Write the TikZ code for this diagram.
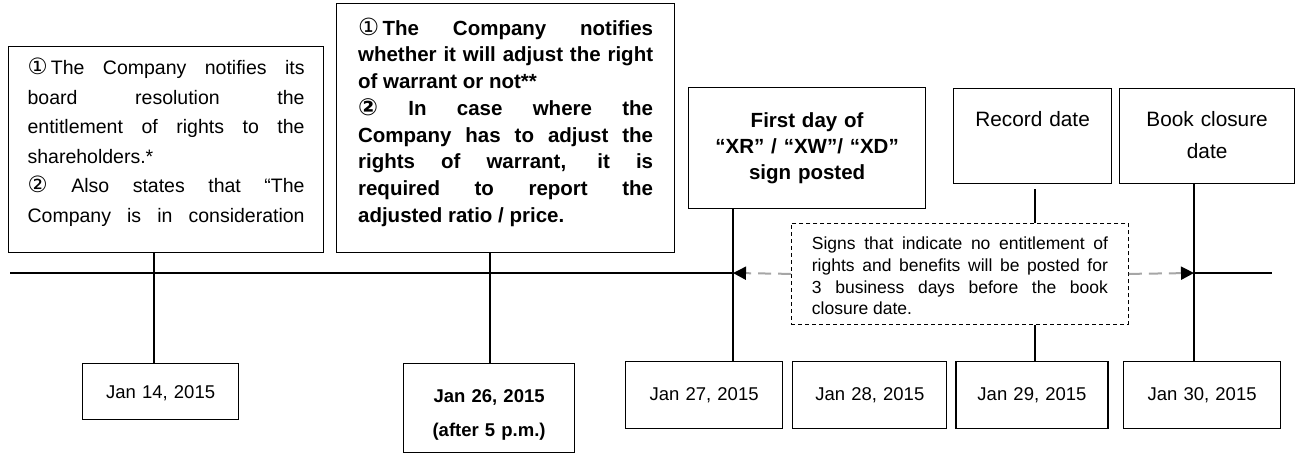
\documentclass[tikz,border=0pt]{standalone}
\usepackage{fontspec}
\setmainfont{Liberation Sans}
\newfontfamily\circfont[Scale=1.15]{DejaVu Sans}
\usetikzlibrary{arrows.meta,positioning}
\tikzstyle{evbox}=[draw,rectangle,line width=1.2pt,inner sep=0pt,fill=white]
\tolerance=10000
\hbadness=10000
\hyphenpenalty=10000
\lefthyphenmin=62

\begin{document}
\begin{tikzpicture}[
  x=1pt, y=-1pt,
  line width=1.5pt,
  annbox/.style={
    evbox,
    anchor=north west,
    align=justify
    },
  datebox/.style={
    evbox,
    anchor=north west,
    align=center,
    text width=140pt,
    minimum height=67pt,
    font=\fontsize{18.5}{22}\selectfont
    },
  titlebox/.style={
    evbox,
    anchor=north west,
    align=center,
    minimum height=95pt,
    font=\fontsize{20.8}{32}\selectfont
    },
  sigarrow/.style={
    draw=black!35,
    line width=2pt,
    dash pattern=on 13pt off 7pt,
    -{Triangle[length=13pt,width=13pt,black]}
    }
]
\useasboundingbox (0,0) rectangle (1300,454);

% ticks on the time line
\coordinate (tl0) at (10,273);
\coordinate (tl1) at (1272,273);
\coordinate (t14) at (154,273);
\coordinate (t26) at (490,273);
\coordinate (t27) at (733,273);
\coordinate (t29) at (1035,273);
\coordinate (t30) at (1194,273);

% events above the line
\node [annbox, text width=277pt, minimum width=315pt, minimum height=206pt,
  font=\fontsize{19.5}{29.5}\selectfont] (ann14) at (8,46)
  {{\circfont ①}\,The Company notifies its\linebreak
   board resolution the\linebreak
   entitlement of rights to the\linebreak
   shareholders.*\par
   {\circfont ②} Also states that “The\linebreak
   Company is in consideration\parfillskip=0pt\par\kern15pt};
\node [annbox, text width=295pt, minimum width=338pt, minimum height=249pt,
  font=\fontsize{20.5}{26.7}\selectfont\bfseries] (ann26) at (336,3)
  {{\circfont\mdseries ①}\,The Company notifies\linebreak
   whether it will adjust the right\linebreak
   of warrant or not**\par
   {\circfont\bfseries ②} In case where the\linebreak
   Company has to adjust the\linebreak
   rights of warrant, it is\linebreak
   required to report the\linebreak
   adjusted ratio / price.\par\kern12pt};
\node [annbox, align=center, text width=225pt, minimum width=237pt, minimum height=121pt,
  font=\fontsize{20.5}{26}\selectfont\bfseries] (ann27) at (688,87)
  {First day of\\ “XR” / “XW”/ “XD”\\ sign posted};
\node [titlebox, text width=140pt, minimum width=158pt] (rec) at (953,88)
  {Record date\par\kern34pt};
\node [titlebox, text width=160pt, minimum width=175pt] (book) at (1119,88)
  {Book closure\\ date\par\kern2pt};

% the sign period
\node [evbox, dashed, line width=0.8pt, dash pattern=on 4pt off 3pt, anchor=north west,
  align=justify, text width=296pt, minimum width=337pt, minimum height=101pt,
  font=\fontsize{17.5}{21.8}\selectfont] (sig) at (791,223)
  {Signs that indicate no entitlement of\linebreak
   rights and benefits will be posted for\linebreak
   3 business days before the book\linebreak
   closure date.\par\kern-4pt};

% dates below the line
\node [datebox, minimum width=156pt, minimum height=56pt] (d14) at (82,363) {Jan 14, 2015\par\kern-6pt};
\node [datebox, minimum width=171pt, minimum height=89pt,
  font=\fontsize{18.5}{34}\selectfont\bfseries] (d26) at (403,363)
  {Jan 26, 2015\\ (after 5 p.m.)\par\kern-14pt};
\node [datebox, minimum width=157pt] (d27) at (625,361) {Jan 27, 2015};
\node [datebox, minimum width=154pt, anchor=west, right=9pt of d27] (d28) {Jan 28, 2015};
\node [datebox, minimum width=152pt, anchor=west, right=8pt of d28] (d29) {Jan 29, 2015};
\node [datebox, minimum width=157pt] (d30) at (1123,361) {Jan 30, 2015};

% time line
\draw (tl0) -- (t27);
\draw (t30) -- (tl1);
\draw [sigarrow] (sig.west) -- (t27);
\draw [sigarrow] (sig.east) -- (t30);

% connectors
\draw (t14 |- ann14.south) -- (t14 |- d14.north);
\draw (t26 |- ann26.south) -- (t26 |- d26.north);
\draw (t27 |- ann27.south) -- (t27 |- d27.north);
\draw ([yshift=-5pt]t29 |- rec.south) -- (t29 |- sig.north);
\draw (t29 |- sig.south) -- (t29 |- d29.north);
\draw (t30 |- book.south) -- (t30 |- d30.north);

\end{tikzpicture}
\end{document}
